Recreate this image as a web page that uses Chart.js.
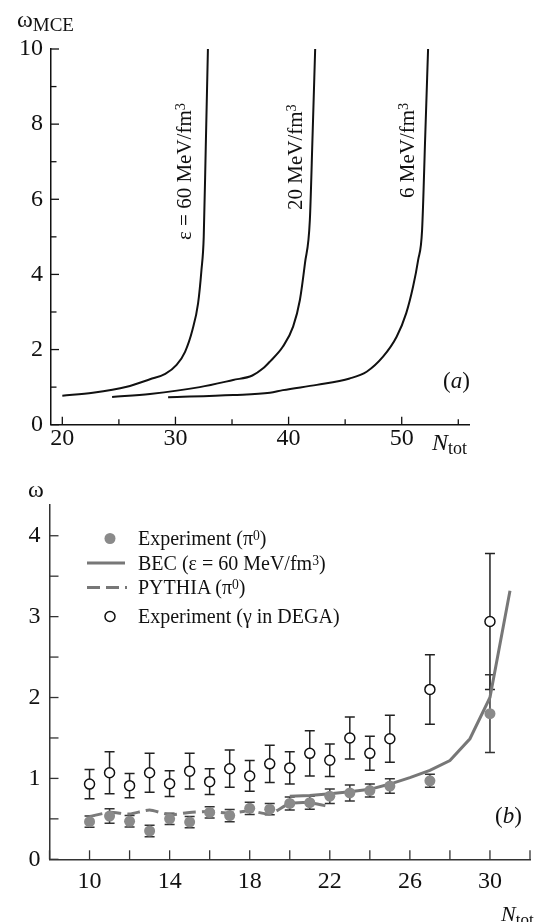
<!DOCTYPE html>
<html><head><meta charset="utf-8">
<script src="https://cdn.jsdelivr.net/npm/chart.js@4.4.1/dist/chart.umd.min.js"></script>
<style>
html,body{margin:0;padding:0;background:#fff;}
#wrap{position:relative;width:538px;height:922px;overflow:hidden;font-family:"Liberation Serif","Times New Roman",serif;color:#111;}
canvas{position:absolute;left:0;}
.t{position:absolute;white-space:nowrap;line-height:1;}
.rot{position:absolute;white-space:nowrap;line-height:1;transform-origin:0 0;transform:rotate(-90deg);font-size:21px;}
.sup{font-size:0.68em;position:relative;top:-0.42em;}
.sub{position:relative;}
</style></head>
<body><div id="wrap">
<canvas id="ca" width="538" height="460" style="top:0"></canvas>
<canvas id="cb" width="538" height="462" style="top:460px"></canvas>

<div class="t" style="left:17px;top:7px;font-size:24px;">ω<span class="sub" style="font-size:19px;top:4px;">MCE</span></div>
<div class="t" style="left:432px;top:430px;font-size:24px;"><i>N</i><span class="sub" style="font-size:18px;top:4px;">tot</span></div>
<div class="t" style="left:443px;top:369px;font-size:23px;">(<i>a</i>)</div>
<div class="rot" style="left:174.4px;top:240px;">ε = 60 MeV/fm<span class="sup">3</span></div>
<div class="rot" style="left:285.4px;top:210px;">20 MeV/fm<span class="sup">3</span></div>
<div class="rot" style="left:397.4px;top:198px;">6 MeV/fm<span class="sup">3</span></div>

<div class="t" style="left:28px;top:477px;font-size:24px;">ω</div>
<div class="t" style="left:495px;top:804px;font-size:23px;">(<i>b</i>)</div>
<div class="t" style="left:501px;top:903px;font-size:22px;"><i>N</i><span class="sub" style="font-size:17px;top:4px;">tot</span></div>

<svg style="position:absolute;left:0;top:0;" width="538" height="922">
  <circle cx="110" cy="538.5" r="5.5" fill="#8a8a8a"/>
  <line x1="87" y1="563" x2="125" y2="563" stroke="#777" stroke-width="3"/>
  <line x1="87" y1="587.5" x2="127" y2="587.5" stroke="#777" stroke-width="3" stroke-dasharray="13,6"/>
  <circle cx="110" cy="616.5" r="5" fill="#fff" stroke="#111" stroke-width="1.5"/>
</svg>
<div class="t" style="left:138px;top:528.3px;font-size:20px;">Experiment (π<span class="sup">0</span>)</div>
<div class="t" style="left:138px;top:553.3px;font-size:20px;">BEC (ε = 60 MeV/fm<span class="sup">3</span>)</div>
<div class="t" style="left:138px;top:577.3px;font-size:20px;">PYTHIA (π<span class="sup">0</span>)</div>
<div class="t" style="left:138px;top:606.3px;font-size:20px;">Experiment (γ in DEGA)</div>
</div>
<script>
// ---------- Panel (a): omega_MCE vs N_tot ----------
const eps60N = [20.0, 22.7, 25.7, 27.75, 29.1, 30.1, 30.85, 31.5, 32.0, 32.3, 32.5, 32.68, 32.87];
const eps60W = [0.77, 0.85, 1.01, 1.21, 1.35, 1.59, 1.94, 2.52, 3.23, 4.12, 5.0, 7.4, 10.0];
const eps20N = [24.4, 27.75, 32.15, 35.1, 36.8, 37.75, 38.35, 39.5, 40.4, 41.0, 41.45, 41.88, 42.12, 42.35];
const eps20W = [0.74, 0.82, 1.0, 1.19, 1.31, 1.50, 1.68, 2.08, 2.61, 3.32, 4.3, 5.45, 7.7, 10.0];
const eps6N  = [29.35, 35.1, 38.35, 39.5, 42.5, 45.4, 46.9, 48.35, 49.55, 50.4, 51.0, 51.45, 51.8, 52.08, 52.33];
const eps6W  = [0.73, 0.79, 0.85, 0.92, 1.06, 1.23, 1.41, 1.81, 2.34, 2.97, 3.67, 4.38, 5.18, 7.7, 10.0];
const aXTickLabels = [20, 30, 40, 50];
const aYTickLabels = [0, 2, 4, 6, 8, 10];

// ---------- Panel (b): omega vs N_tot ----------
const expPi0N   = [10, 11, 12, 13, 14, 15, 16, 17, 18, 19, 20, 21, 22, 23, 24, 25, 27, 30];
const expPi0W   = [0.465, 0.535, 0.47, 0.35, 0.50, 0.46, 0.58, 0.54, 0.63, 0.62, 0.69, 0.70, 0.78, 0.82, 0.85, 0.905, 0.97, 1.80];
const expPi0Err = [0.07, 0.09, 0.07, 0.07, 0.07, 0.07, 0.07, 0.075, 0.075, 0.07, 0.08, 0.08, 0.09, 0.10, 0.08, 0.09, 0.08, 0.48];
const degaN     = [10, 11, 12, 13, 14, 15, 16, 17, 18, 19, 20, 21, 22, 23, 24, 25, 27, 30];
const degaW     = [0.93, 1.07, 0.91, 1.07, 0.935, 1.09, 0.96, 1.12, 1.03, 1.18, 1.13, 1.31, 1.225, 1.50, 1.31, 1.49, 2.10, 2.94];
const degaErr   = [0.18, 0.26, 0.15, 0.24, 0.16, 0.22, 0.16, 0.23, 0.19, 0.23, 0.20, 0.28, 0.20, 0.26, 0.21, 0.29, 0.43, 0.84];
const becN      = [20, 21, 22, 23, 24, 25, 26, 27, 28, 29, 30, 31];
const becW      = [0.78, 0.79, 0.81, 0.835, 0.865, 0.93, 1.01, 1.10, 1.22, 1.49, 2.0, 3.32];
const pythiaN   = [10, 11, 12, 13, 14, 15, 16, 17, 18, 19, 20, 21, 22];
const pythiaW   = [0.53, 0.58, 0.56, 0.61, 0.55, 0.58, 0.59, 0.57, 0.60, 0.56, 0.69, 0.70, 0.65];
const bXTickLabels = [10, 14, 18, 22, 26, 30];
const bYTickLabels = [0, 1, 2, 3, 4];

const pts = (xs, ys) => xs.map((x, i) => ({x, y: ys[i]}));

Chart.defaults.font.family = "'Liberation Serif','Times New Roman',serif";
Chart.defaults.color = '#111';

const innerTicks = {
  id: 'innerTicks',
  afterDraw(chart, args, opts) {
    const {ctx, chartArea} = chart;
    ctx.save();
    ctx.strokeStyle = opts.color || '#222';
    ctx.lineWidth = 1.3;
    const xs = chart.scales.x, ys = chart.scales.y;
    xs.ticks.forEach(t => {
      const p = xs.getPixelForValue(t.value);
      const len = opts.xMajor(t.value) ? opts.major : opts.minor;
      ctx.beginPath(); ctx.moveTo(p, chartArea.bottom); ctx.lineTo(p, chartArea.bottom - len); ctx.stroke();
    });
    ys.ticks.forEach(t => {
      const p = ys.getPixelForValue(t.value);
      const len = opts.yMajor(t.value) ? opts.major : opts.minor;
      ctx.beginPath(); ctx.moveTo(chartArea.left, p); ctx.lineTo(chartArea.left + len, p); ctx.stroke();
    });
    ctx.restore();
  }
};

const errorBars = {
  id: 'errorBars',
  beforeDatasetsDraw(chart) {
    const {ctx} = chart;
    const xs = chart.scales.x, ys = chart.scales.y;
    chart.data.datasets.forEach((ds, i) => {
      if (!ds.errors || !chart.isDatasetVisible(i)) return;
      ctx.save();
      ctx.strokeStyle = ds.errorColor || '#333';
      ctx.lineWidth = 1.5;
      ds.data.forEach((p, j) => {
        const e = ds.errors[j];
        const px = xs.getPixelForValue(p.x);
        const yt = ys.getPixelForValue(p.y + e);
        const yb = ys.getPixelForValue(p.y - e);
        ctx.beginPath();
        ctx.moveTo(px, yt); ctx.lineTo(px, yb);
        ctx.moveTo(px - 5, yt); ctx.lineTo(px + 5, yt);
        ctx.moveTo(px - 5, yb); ctx.lineTo(px + 5, yb);
        ctx.stroke();
      });
      ctx.restore();
    });
  }
};

const tickFont = {size: 24, family: "'Liberation Serif','Times New Roman',serif"};

new Chart(document.getElementById('ca'), {
  type: 'line',
  data: {
    datasets: [
      {data: pts(eps60N, eps60W), borderColor: '#111', borderWidth: 2, pointRadius: 0, cubicInterpolationMode: 'monotone', clip: false},
      {data: pts(eps20N, eps20W), borderColor: '#111', borderWidth: 2, pointRadius: 0, cubicInterpolationMode: 'monotone', clip: false},
      {data: pts(eps6N, eps6W),  borderColor: '#111', borderWidth: 2, pointRadius: 0, cubicInterpolationMode: 'monotone', clip: false}
    ]
  },
  options: {
    responsive: false, animation: false, devicePixelRatio: 1,
    layout: {padding: {top: 49, right: 68.4, left: 0, bottom: 0}},
    plugins: {legend: {display: false}, tooltip: {enabled: false},
      innerTicks: {major: 8, minor: 5.5, color: '#111',
        xMajor: v => v % 10 === 0, yMajor: v => v % 2 === 0}},
    scales: {
      x: {type: 'linear', min: 19, max: 56,
        grid: {display: false, drawTicks: false, tickLength: 0},
        border: {display: true, color: '#111', width: 1.5},
        ticks: {stepSize: 5, includeBounds: false, autoSkip: false, maxRotation: 0, padding: 0, font: tickFont, color: '#111',
          callback: v => aXTickLabels.includes(v) ? String(v) : ''},
        afterFit: s => { s.height = 35.3; }},
      y: {type: 'linear', min: 0, max: 10,
        grid: {display: false, drawTicks: false, tickLength: 0},
        border: {display: true, color: '#111', width: 1.5},
        ticks: {stepSize: 1, includeBounds: false, autoSkip: false, padding: 8, font: tickFont, color: '#111',
          callback: v => aYTickLabels.includes(v) ? String(v) : ''},
        afterFit: s => { s.width = 51; }}
    }
  },
  plugins: [innerTicks]
});

new Chart(document.getElementById('cb'), {
  type: 'line',
  data: {
    datasets: [
      {label: 'Experiment (γ in DEGA)', data: pts(degaN, degaW), errors: degaErr, errorColor: '#222', showLine: false,
        pointRadius: 5, pointBackgroundColor: '#fff', pointBorderColor: '#111', pointBorderWidth: 1.5, order: 0},
      {label: 'Experiment (π0)', data: pts(expPi0N, expPi0W), errors: expPi0Err, errorColor: '#333', showLine: false,
        pointRadius: 5.5, pointBackgroundColor: '#8a8a8a', pointBorderColor: '#8a8a8a', pointBorderWidth: 0, order: 1},
      {label: 'BEC', data: pts(becN, becW), borderColor: '#777', borderWidth: 3, pointRadius: 0, tension: 0, clip: false, order: 2},
      {label: 'PYTHIA', data: pts(pythiaN, pythiaW), borderColor: '#7a7a7a', borderWidth: 3, borderDash: [13, 6], pointRadius: 0, tension: 0.2, clip: false, order: 3}
    ]
  },
  options: {
    responsive: false, animation: false, devicePixelRatio: 1,
    layout: {padding: {top: 45, right: 1.3, left: 0, bottom: 0}},
    plugins: {legend: {display: false}, tooltip: {enabled: false},
      innerTicks: {major: 9, minor: 9, color: '#333', xMajor: v => true, yMajor: v => true}},
    scales: {
      x: {type: 'linear', min: 8, max: 32,
        grid: {display: false, drawTicks: false, tickLength: 0},
        border: {display: true, color: '#333', width: 1.5},
        ticks: {stepSize: 2, includeBounds: false, autoSkip: false, maxRotation: 0, padding: 8, font: tickFont, color: '#111',
          callback: v => bXTickLabels.includes(v) ? String(v) : ''},
        afterFit: s => { s.height = 62.7; }},
      y: {type: 'linear', min: 0, max: 4.38,
        grid: {display: false, drawTicks: false, tickLength: 0},
        border: {display: true, color: '#333', width: 1.5},
        ticks: {stepSize: 0.5, includeBounds: false, autoSkip: false, padding: 9, font: tickFont, color: '#111',
          callback: v => bYTickLabels.includes(v) ? String(v) : ''},
        afterFit: s => { s.width = 49.5; }}
    }
  },
  plugins: [innerTicks, errorBars]
});
</script>
</body></html>
